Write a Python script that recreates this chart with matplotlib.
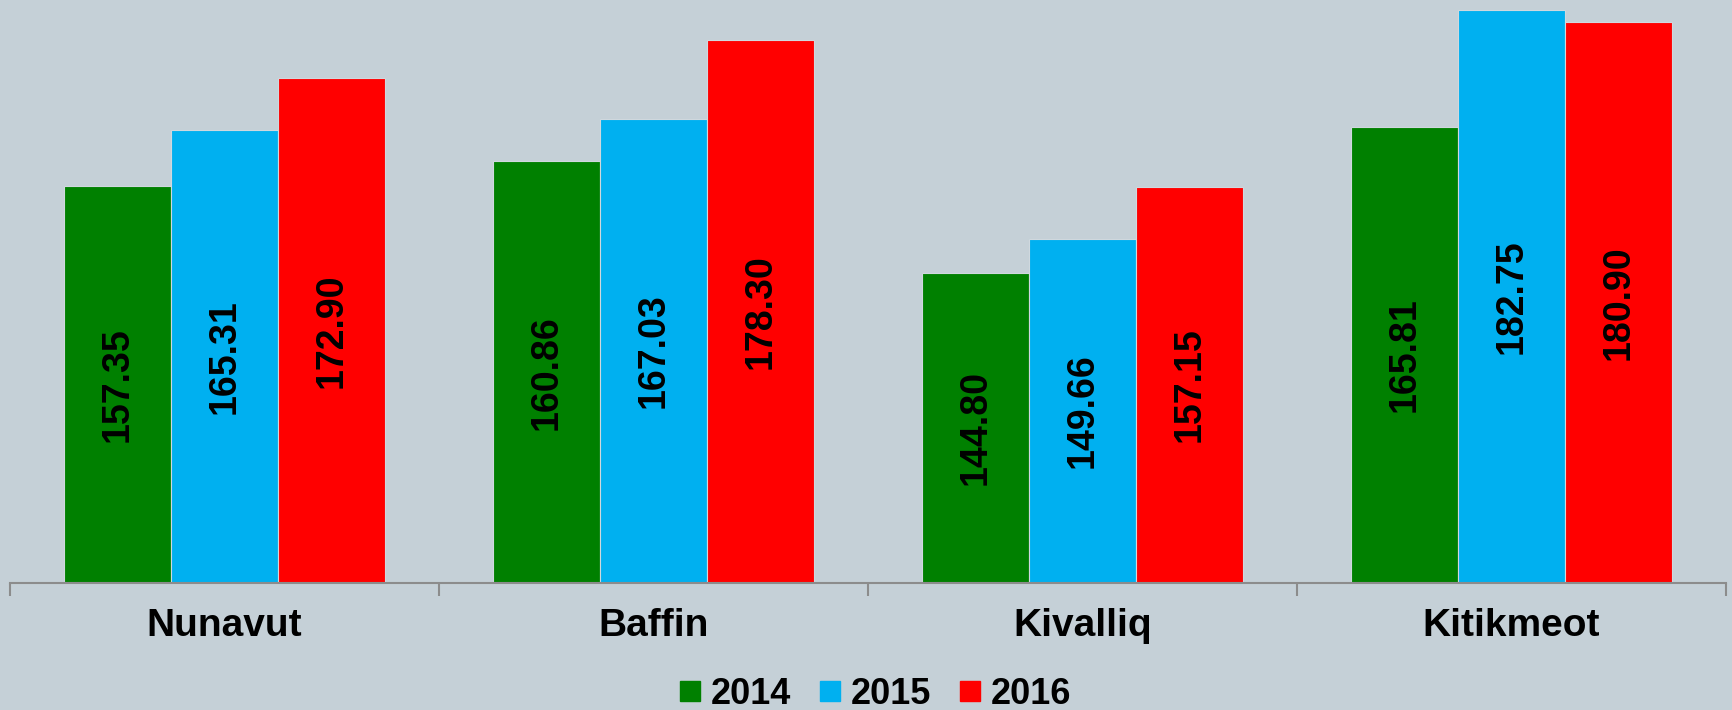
"""Average bar chart by region, 2014-2016."""

import matplotlib

matplotlib.use("Agg")
import matplotlib.pyplot as plt
import numpy as np
from matplotlib.lines import Line2D

regions = ["Nunavut", "Baffin", "Kivalliq", "Kitikmeot"]
years = ["2014", "2015", "2016"]
values_2014 = [157.35, 160.86, 144.80, 165.81]
values_2015 = [165.31, 167.03, 149.66, 182.75]
values_2016 = [172.90, 178.30, 157.15, 180.90]
colors = ["#008000", "#00B0F0", "#FF0000"]

BG = "#C5D0D7"
plt.rcParams["font.family"] = ["Liberation Sans", "DejaVu Sans"]
plt.rcParams["font.weight"] = "bold"

fig = plt.figure(figsize=(17.33, 7.10), dpi=100, facecolor=BG)
ax = fig.add_axes([10 / 1733, 127 / 710, 1716 / 1733, 583 / 710])
ax.set_facecolor(BG)

x = np.arange(len(regions))
width = 0.25
series = [values_2014, values_2015, values_2016]
for i, (vals, color) in enumerate(zip(series, colors)):
    pos = x + (i - 1) * width
    bars = ax.bar(pos, [v - 100 for v in vals], width, bottom=100,
                  color=color, edgecolor="#D0D8DE", linewidth=0.8)
    for b, v in zip(bars, vals):
        ax.text(b.get_x() + b.get_width() / 2, 100 + (v - 100) / 2,
                f"{v:.2f}", rotation=90, ha="center", va="center",
                fontsize=27, fontweight="bold", color="black")

ax.set_xlim(-0.5, len(regions) - 0.5)
ax.set_ylim(100, 100 + 583 / 6.929)

for side in ["top", "right", "left"]:
    ax.spines[side].set_visible(False)
ax.spines["bottom"].set_color("#8C8C8C")
ax.spines["bottom"].set_linewidth(1.5)
ax.set_yticks([])

ax.set_xticks(np.arange(len(regions) + 1) - 0.5)
ax.set_xticklabels([])
ax.tick_params(axis="x", which="major", direction="out", length=9,
               width=1.5, color="#8C8C8C")
ax.set_xticks(x, minor=True)
ax.set_xticklabels(regions, minor=True, fontsize=28, fontweight="bold")
ax.tick_params(axis="x", which="minor", length=0, pad=18)

handles = [Line2D([], [], marker="s", linestyle="none", markersize=13.7,
                  markerfacecolor=c, markeredgecolor=c) for c in colors]
fig.legend(handles, years, loc="center", bbox_to_anchor=(0.505, 0.022),
           ncol=3, frameon=False, handlelength=0.55, handletextpad=0.3,
           columnspacing=0.8, prop={"size": 26, "weight": "bold"})

fig.savefig("out.png", dpi=100, facecolor=BG)
